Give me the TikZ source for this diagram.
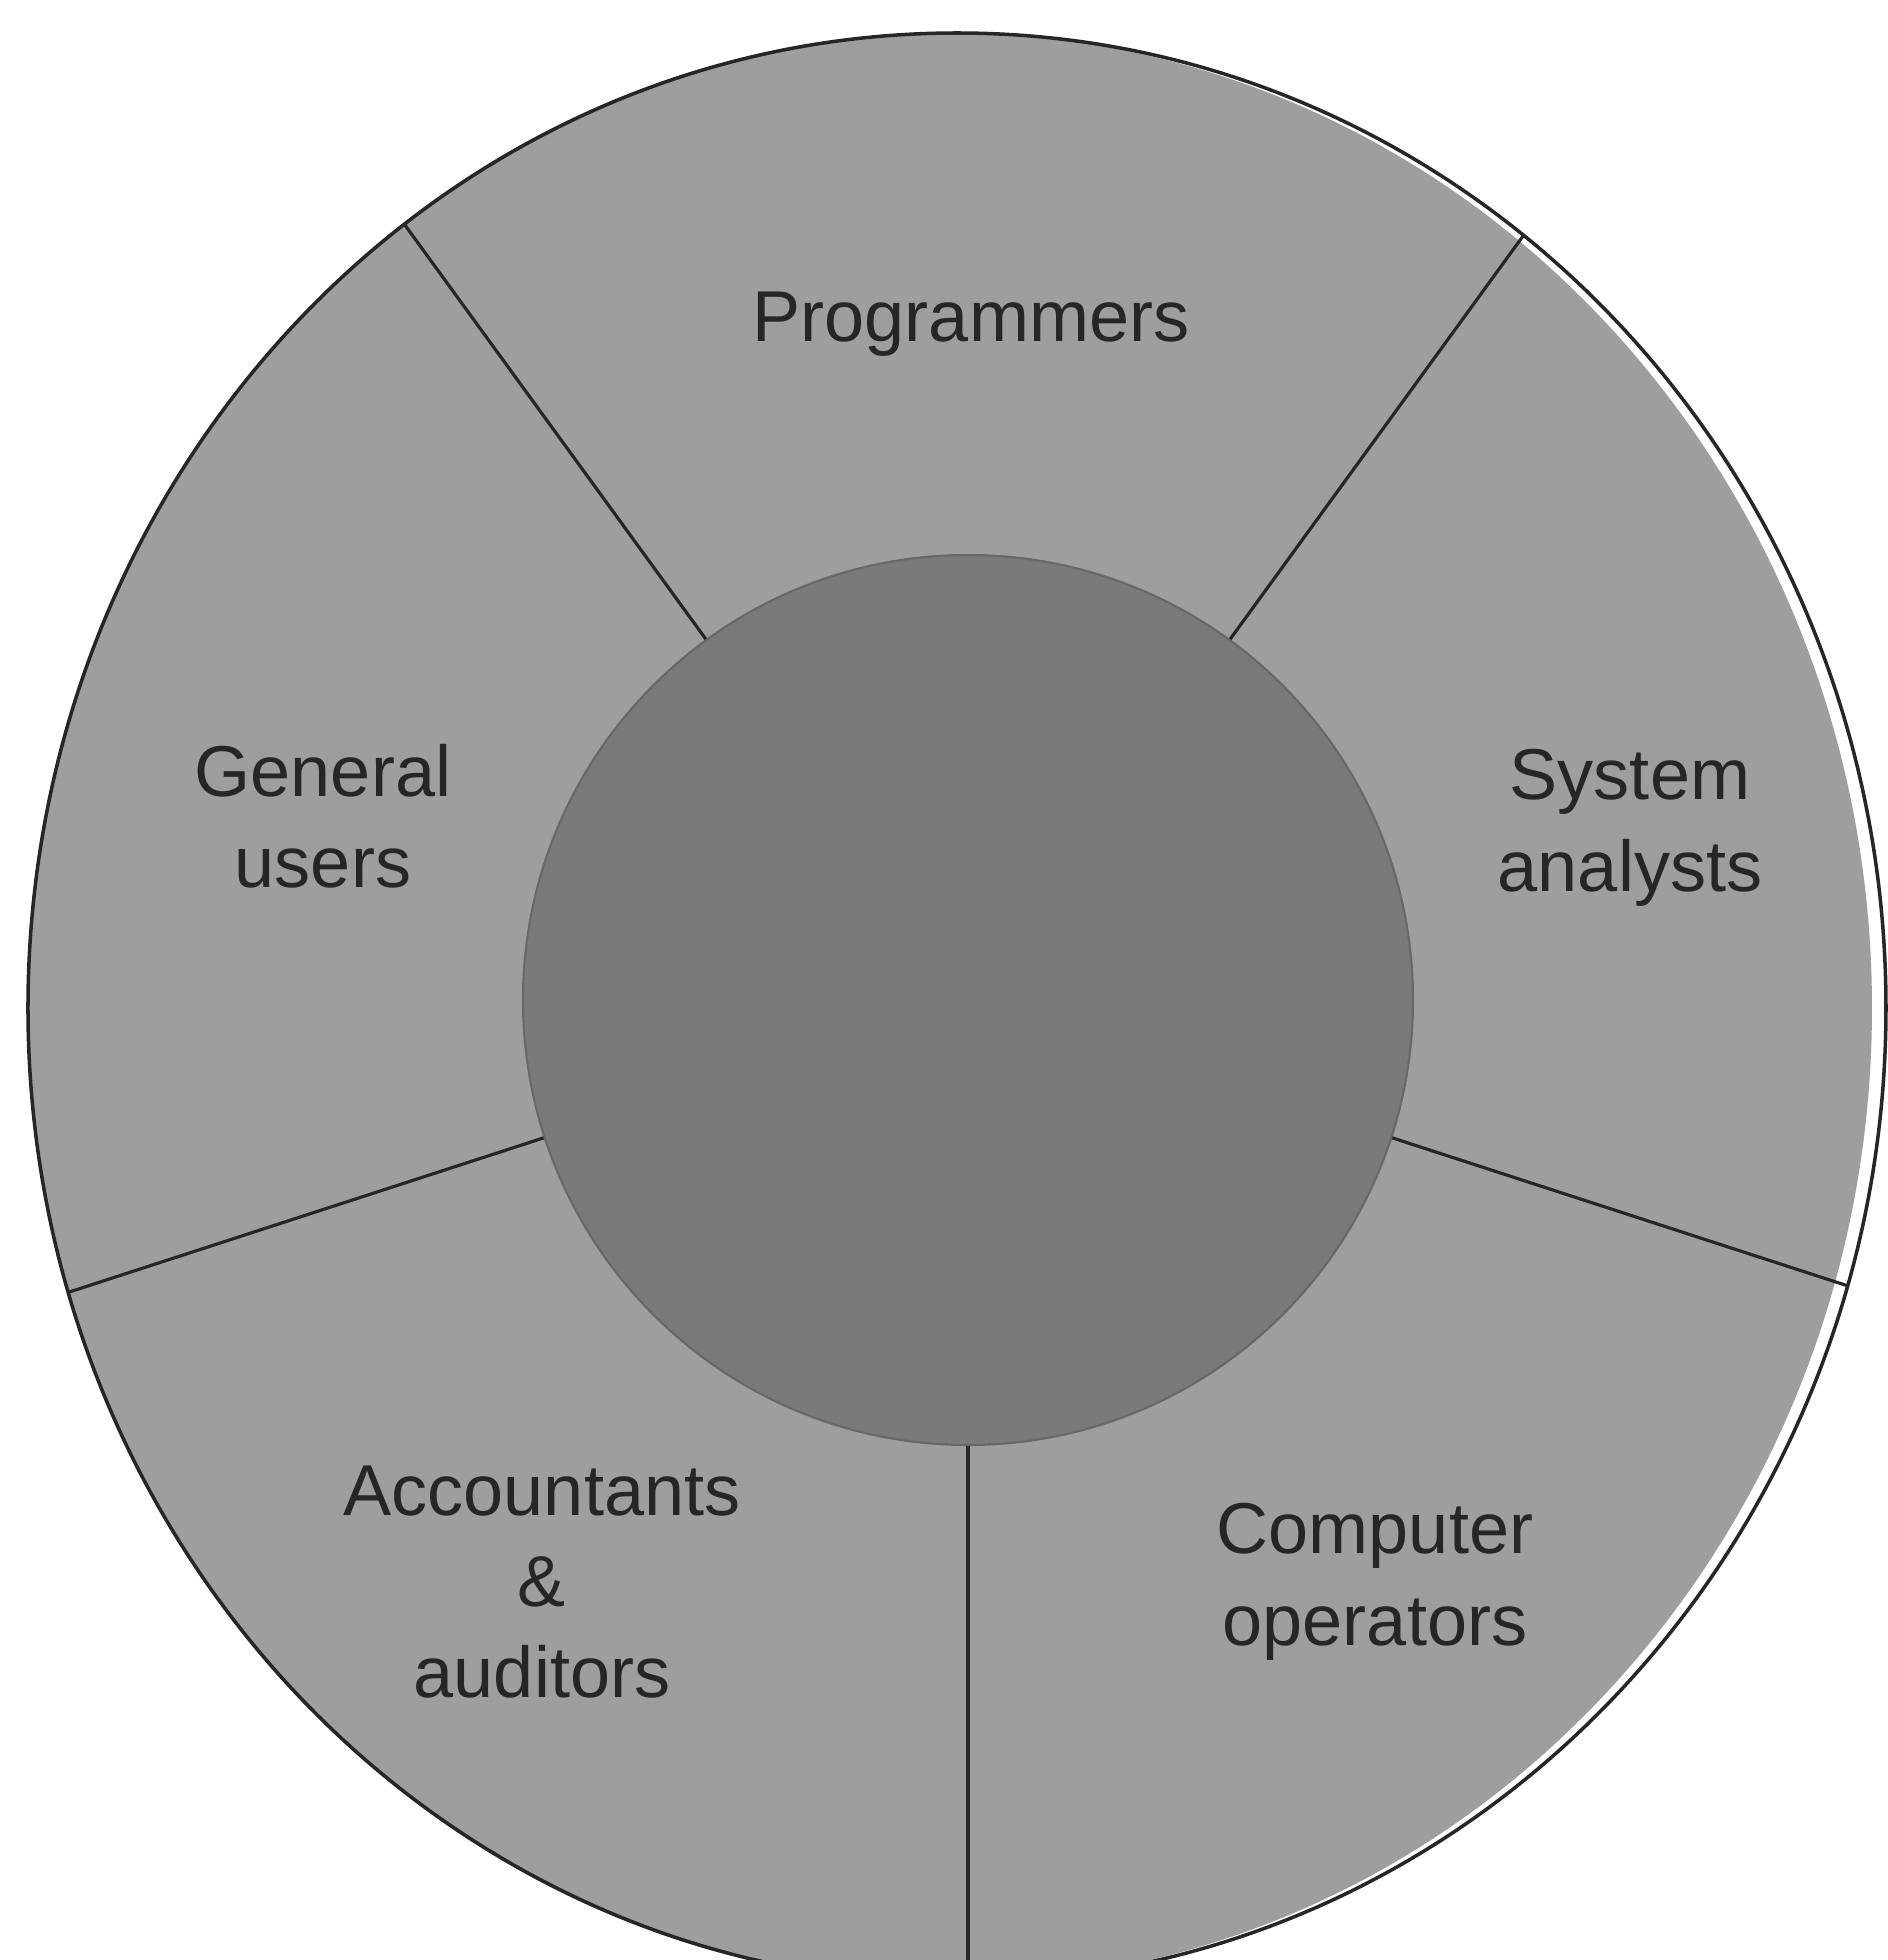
\documentclass[tikz,border=0pt]{standalone}
\usepackage{fontspec}
\setmainfont{Liberation Sans}
\usetikzlibrary{positioning}
\definecolor{rimgrey}{gray}{0.62}
\definecolor{coregrey}{gray}{0.48}
\definecolor{inkgrey}{gray}{0.15}

\begin{document}
\begin{tikzpicture}[x=0.1mm, y=0.1mm,
  core/.style={circle, fill=coregrey, draw=coregrey!85!black, line width=0.6pt,
    minimum size=89mm, inner sep=0pt},
  divider/.style={line width=0.9pt, color=inkgrey},
  group/.style={font=\fontsize{20.5}{26}\selectfont, text=inkgrey, align=center}]

  \useasboundingbox (-968,-960) rectangle (920,1000);

  % outer disc, its rim sits a little off the fill on the right
  \fill[rimgrey] (-18,-8) ellipse [x radius=922, y radius=975];
  \draw[line width=1pt, color=inkgrey] (-11,-8) ellipse [x radius=929, y radius=975];

  \node[core] (hub) at (0,0) {};

  % where the dividers meet the rim
  \coordinate (rimA) at (54:945);
  \coordinate (rimB) at (126:959);
  \coordinate (rimC) at (198:946);
  \coordinate (rimD) at (270:983);
  \coordinate (rimE) at (342:925);

  \draw[divider] (hub.54) -- (rimA);
  \draw[divider] (hub.126) -- (rimB);
  \draw[divider] (hub.198) -- (rimC);
  \draw[divider] (hub.270) -- (rimD);
  \draw[divider] (hub.342) -- (rimE);

  \node[group] (prog) at (3,676) {Programmers};
  \node[group] (analyst) at (662,172) {System\\analysts};
  \node[group] (operator) at (407,-582) {Computer\\operators};
  \node[group] (account) at (-426,-582) {Accountants\\\&\\auditors};
  \node[group] (users) at (-645,184) {General\\users};
\end{tikzpicture}
\end{document}
